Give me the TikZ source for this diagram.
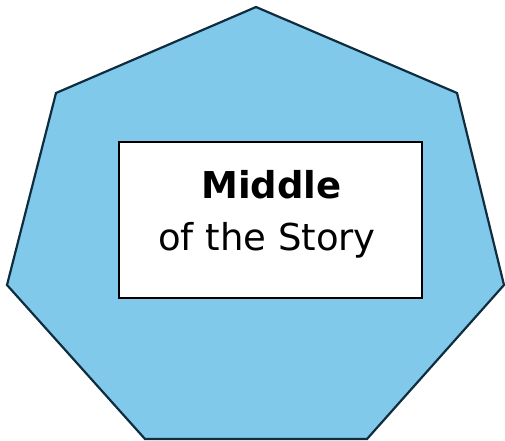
\documentclass[tikz,border=0pt]{standalone}
\usepackage{fontspec}
\setmainfont{DejaVu Sans}
\definecolor{storyblue}{HTML}{80C9EB}
\definecolor{storyline}{HTML}{0F2D3F}

\begin{document}
\begin{tikzpicture}[x=1pt,y=-1pt]
\useasboundingbox (0,0) rectangle (505,440);
\draw[line width=2.2pt,storyline,fill=storyblue,line join=miter] (256,7) -- (457,93) -- (504,285) -- (367,439) -- (145,439) -- (7,285) -- (56,93) -- cycle;
\draw[line width=1.3pt,fill=white] (119,142) rectangle (422,298);
\node[anchor=base,inner sep=0pt,font=\fontsize{37}{44}\selectfont\bfseries] (title) at (271.5,198) {Middle};
\node[anchor=base,inner sep=0pt,font=\fontsize{37}{44}\selectfont] (subtitle) at (267,250) {of the Story};
\end{tikzpicture}
\end{document}
